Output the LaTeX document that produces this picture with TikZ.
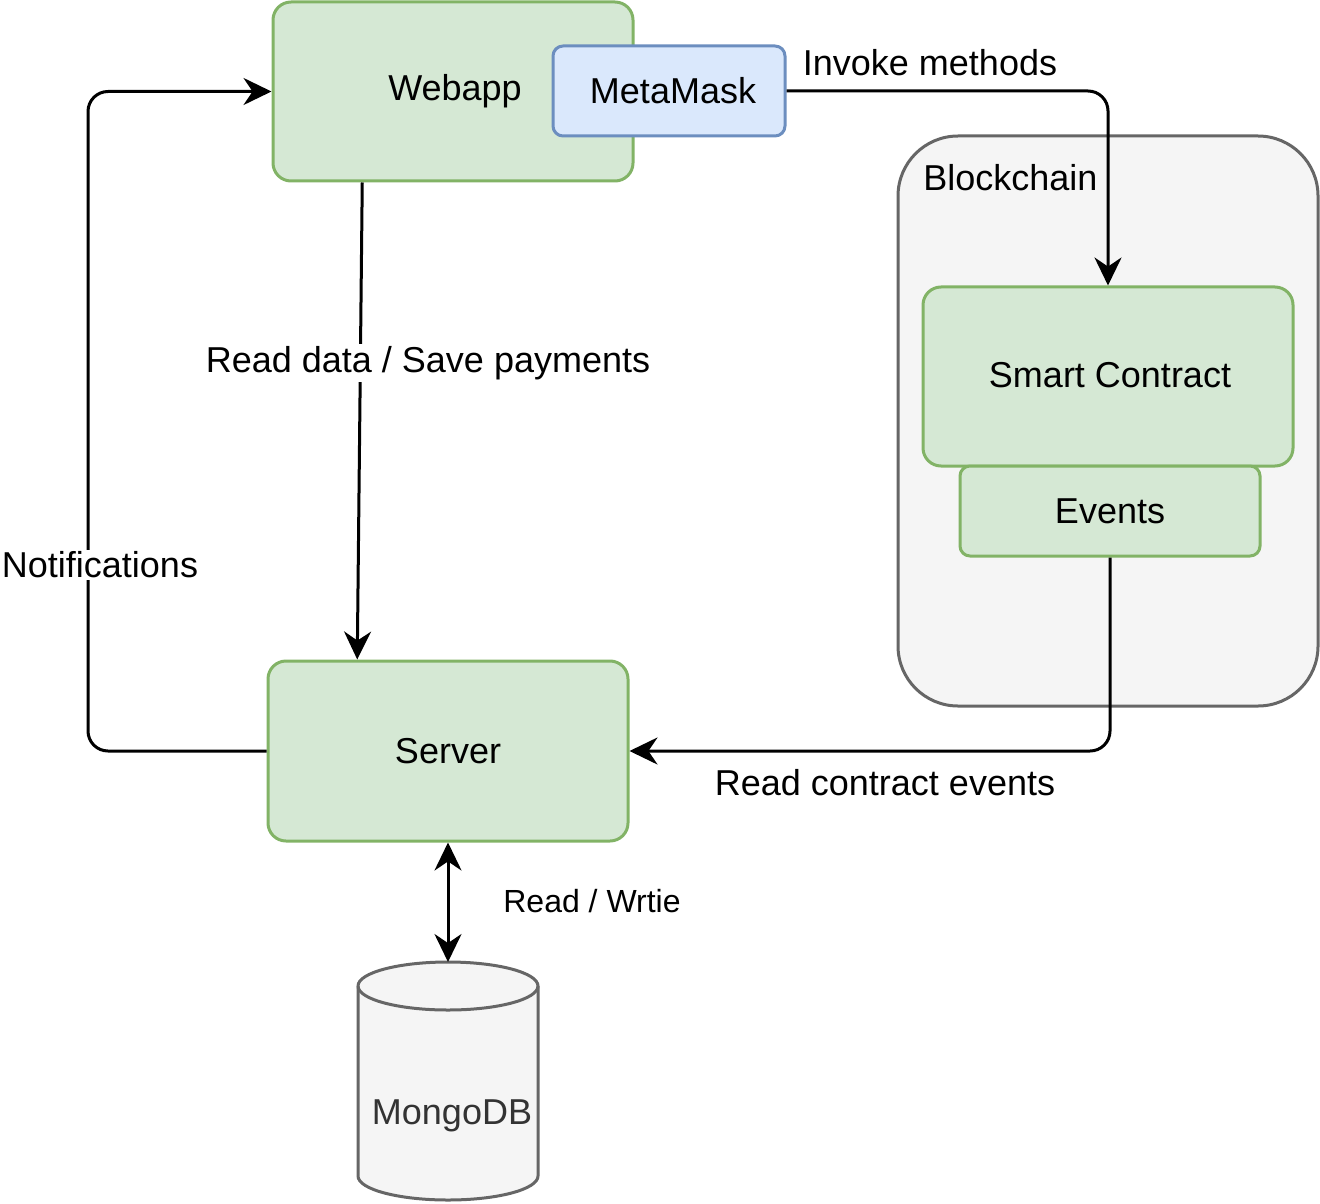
\documentclass[tikz,border=0pt]{standalone}
\usepackage{fontspec}
\setmainfont{Liberation Sans}
\usetikzlibrary{arrows.meta,calc,positioning}
\definecolor{BoxFill}{HTML}{D5E8D4}
\definecolor{BoxLine}{HTML}{82B366}
\definecolor{MaskFill}{HTML}{DAE8FC}
\definecolor{MaskLine}{HTML}{6C8EBF}
\definecolor{ChainFill}{HTML}{F5F5F5}
\definecolor{ChainLine}{HTML}{666666}
\definecolor{DbText}{HTML}{333333}

\begin{document}
\begin{tikzpicture}[x=0.5pt,y=-0.5pt,
  txt/.style={font=\fontsize{18}{21}\selectfont,yshift=-1.5pt},
  box/.style={font=\fontsize{18}{21}\selectfont,draw=BoxLine,fill=BoxFill,line width=1.5pt,rounded corners=9pt},
  link/.style={line width=1.5pt,rounded corners=10pt,-{Stealth[length=14pt,width=13.5pt]}},
  lbl/.style={txt,fill=white,inner sep=1pt}]
\useasboundingbox (0,0) rectangle (1320,1203);

% blockchain container
\node[draw=ChainLine,fill=ChainFill,line width=1.5pt,rounded corners=30pt,
  minimum width=210pt,minimum height=285pt] (chain) at (1108,421) {};
\node[txt,anchor=west,inner sep=0pt] (chainlbl) at (923,175) {Blockchain};

% boxes
\node[box,minimum width=180pt,minimum height=89.5pt] (webapp) at (453,91.5) {};
\node[txt] at (455,88) {Webapp};
\node[box,draw=MaskLine,fill=MaskFill,rounded corners=5pt,minimum width=116pt,minimum height=45pt] (metamask) at (669,91) {};
\node[txt] at (673,88) {MetaMask};
\node[box,minimum width=185pt,minimum height=89.5pt] (smart) at (1108,376.5) {};
\node[txt] at (1110,372) {Smart Contract};
\node[box,rounded corners=5pt,minimum width=150pt,minimum height=45pt] (events) at (1110,511) {};
\node[txt] at (1110,508) {Events};
\node[box,minimum width=180pt,minimum height=90pt] (server) at (448,751) {};
\node[txt] at (448,748) {Server};

% database
\draw[draw=ChainLine,fill=ChainFill,line width=1.5pt]
  (358,986) -- (358,1176) arc[start angle=180,end angle=360,x radius=45pt,y radius=12pt]
  -- (538,986) arc[start angle=0,end angle=180,x radius=45pt,y radius=12pt];
\draw[draw=ChainLine,line width=1.5pt]
  (358,986) arc[start angle=180,end angle=360,x radius=45pt,y radius=12pt];
\coordinate (mongotop) at (448,962);
\node[txt,text=DbText] (mongo) at (452,1113) {MongoDB};

% connectors
\draw[link] ($(webapp.south west)!.25!(webapp.south east)$) -- ($(server.north west)!.25!(server.north east)$);
\node[lbl] at (428,360) {Read data / Save payments};

\draw[link] (server.west) -- (88,751) |- (webapp.west);
\node[lbl] at (100,562) {Notifications};

\draw[link] (metamask.east) -| (smart.north);
\node[txt] at (930,60) {Invoke methods};

\draw[link] (events.south) |- (server.east);
\node[txt] at (885,780) {Read contract events};

\draw[link,{Stealth[length=14pt,width=13.5pt]}-{Stealth[length=14pt,width=13.5pt]}] (server.south) -- (mongotop);
\node[font=\fontsize{16}{19}\selectfont,yshift=-1pt] at (592,899) {Read / Wrtie};

\end{tikzpicture}
\end{document}
